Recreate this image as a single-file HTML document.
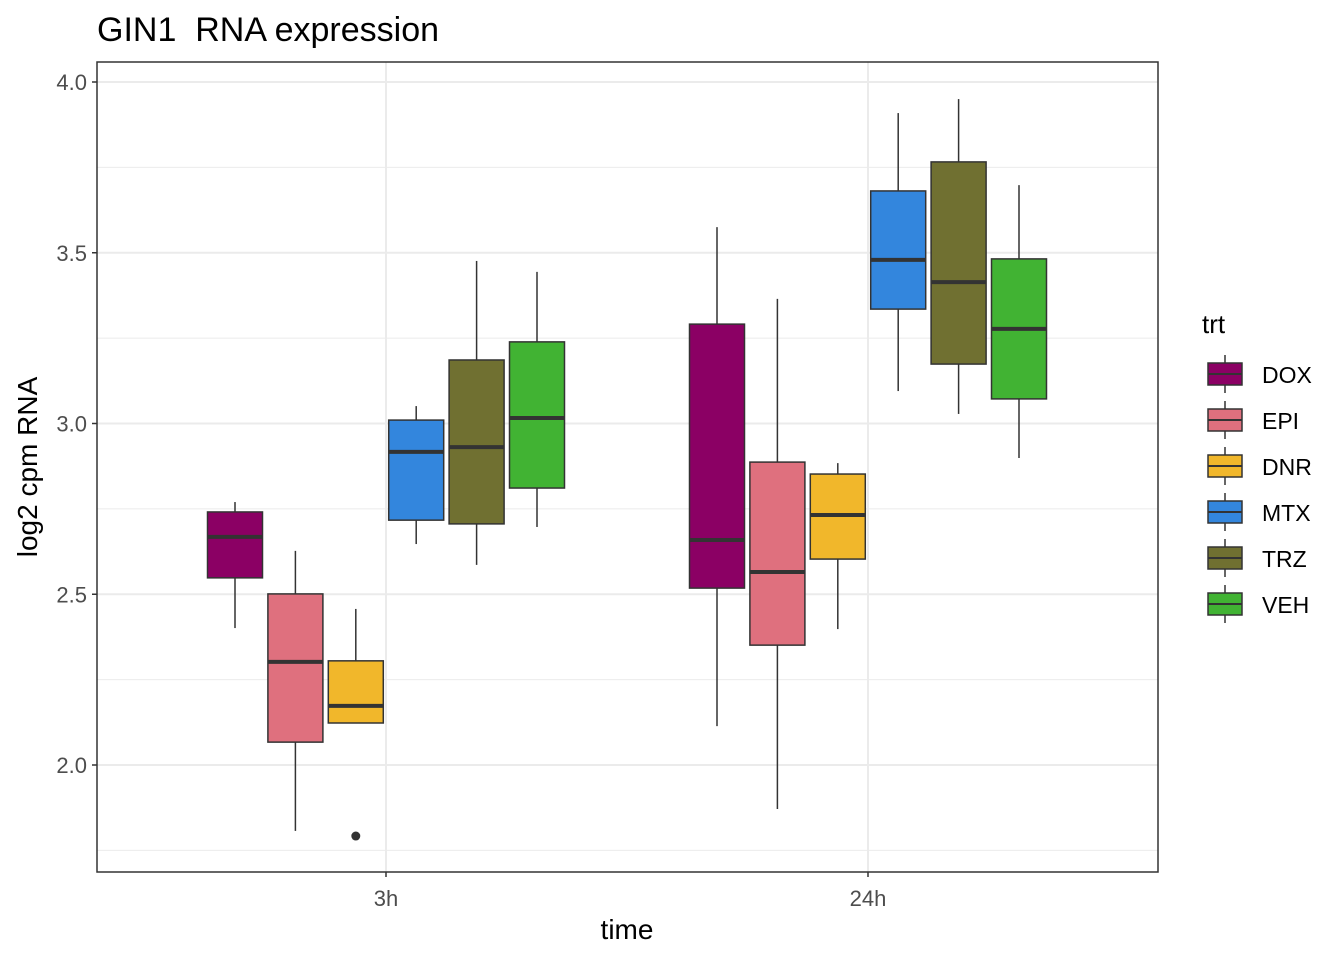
<!DOCTYPE html>
<html><head><meta charset="utf-8"><style>body{margin:0;background:#fff}svg{display:block;font-family:"Liberation Sans",Arial,sans-serif}</style></head>
<body>
<svg id="chart" width="1344" height="960"></svg>
<script>
const times=["3h","24h"];
const treatments=["DOX","EPI","DNR","MTX","TRZ","VEH"];
const colors=["#8B0064","#DF707E","#F1B72B","#3386DD","#707031","#41B333"];
// [whiskerLow, q1, median, q3, whiskerHigh] per time, per treatment
const stats3h=[[2.401,2.548,2.668,2.741,2.770],[1.807,2.067,2.302,2.501,2.627],[2.123,2.123,2.173,2.305,2.457],[2.647,2.717,2.917,3.010,3.051],[2.586,2.706,2.931,3.186,3.476],[2.697,2.811,3.016,3.239,3.444]];
const stats24h=[[2.114,2.518,2.659,3.291,3.575],[1.871,2.351,2.565,2.887,3.365],[2.398,2.603,2.732,2.852,2.884],[3.095,3.335,3.479,3.681,3.909],[3.028,3.174,3.414,3.766,3.950],[2.899,3.072,3.277,3.482,3.698]];
const outliers=[{t:0,g:2,v:1.792}];
const yTicks=[2.0,2.5,3.0,3.5,4.0];
const yMinor=[1.75,2.25,2.75,3.25,3.75];
const NS="http://www.w3.org/2000/svg";
const svg=document.getElementById("chart");
const L=97,R=1158,T=62,B=872;
const y=v=>765-(v-2)*341.5;
const xc=[386,868];
const x=(t,g)=>xc[t]+(g-2.5)*60.4;
function el(tag,a,p){const e=document.createElementNS(NS,tag);for(const k in a)e.setAttribute(k,a[k]);(p||svg).appendChild(e);return e;}
el("rect",{x:L,y:T,width:R-L,height:B-T,fill:"#fff"});
yMinor.forEach(v=>{const l=el("line",{x1:L,x2:R,y1:y(v),y2:y(v),stroke:"#EBEBEB","stroke-width":1});});
yTicks.forEach(v=>{const l=el("line",{x1:L,x2:R,y1:y(v),y2:y(v),stroke:"#EBEBEB","stroke-width":2});
 el("line",{x1:L-5,x2:L,y1:y(v),y2:y(v),stroke:"#333","stroke-width":1.5});
 const t=el("text",{x:L-10,y:y(v)+8,"text-anchor":"end","font-size":22,fill:"#4D4D4D"});t.textContent=v.toFixed(1);});
times.forEach((tm,i)=>{el("line",{x1:xc[i],x2:xc[i],y1:T,y2:B,stroke:"#EBEBEB","stroke-width":2});
 el("line",{x1:xc[i],x2:xc[i],y1:B,y2:B+5,stroke:"#333","stroke-width":1.5});
 const t=el("text",{x:xc[i],y:906,"text-anchor":"middle","font-size":22,fill:"#4D4D4D"});t.textContent=tm;});
const all=[stats3h,stats24h];
all.forEach((st,ti)=>st.forEach((s,g)=>{
 const g0=el("g",{});
 const cx=x(ti,g),w=55;
 el("line",{x1:cx,x2:cx,y1:y(s[4]),y2:y(s[3]),stroke:"#333","stroke-width":1.5},g0);
 el("line",{x1:cx,x2:cx,y1:y(s[1]),y2:y(s[0]),stroke:"#333","stroke-width":1.5},g0);
 el("rect",{x:cx-w/2,y:y(s[3]),width:w,height:y(s[1])-y(s[3]),fill:colors[g],stroke:"#333","stroke-width":1.5},g0);
 el("line",{x1:cx-w/2,x2:cx+w/2,y1:y(s[2]),y2:y(s[2]),stroke:"#333","stroke-width":4},g0);
}));
outliers.forEach(o=>{const c=el("circle",{cx:x(o.t,o.g),cy:y(o.v),r:4.5,fill:"#333"});});
const fr=el("rect",{x:L,y:T,width:R-L,height:B-T,fill:"none",stroke:"#333","stroke-width":1.5});
let t=el("text",{x:97,y:41,"font-size":34,fill:"#000","xml:space":"preserve",style:"white-space:pre"});t.textContent="GIN1  RNA expression";
t=el("text",{x:627,y:939,"text-anchor":"middle","font-size":28,fill:"#000"});t.textContent="time";
t=el("text",{x:37,y:467,"text-anchor":"middle","font-size":28,fill:"#000",transform:"rotate(-90 37 467)"});t.textContent="log2 cpm RNA";
t=el("text",{x:1202,y:333,"font-size":26,fill:"#000"});t.textContent="trt";
treatments.forEach((n,i)=>{const cy=374+i*46;const g=el("g",{});
 el("line",{x1:1225,x2:1225,y1:cy-19,y2:cy+19,stroke:"#333","stroke-width":1.5},g);
 el("rect",{x:1208,y:cy-11,width:34,height:22,fill:colors[i],stroke:"#333","stroke-width":1.5},g);
 el("line",{x1:1208,x2:1242,y1:cy,y2:cy,stroke:"#333","stroke-width":2},g);
 const tt=el("text",{x:1262,y:cy+9,"font-size":23,fill:"#000"},g);tt.textContent=n;});
</script>
</body></html>
